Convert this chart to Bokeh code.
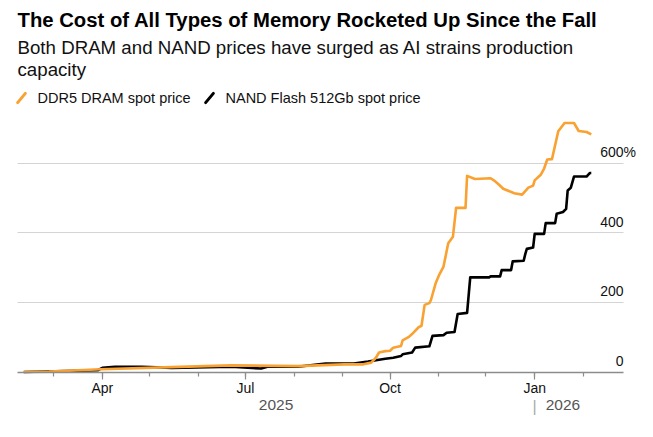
import math
import pandas as pd
from bokeh.plotting import figure
from bokeh.models import (Range1d, FixedTicker, DatetimeTickFormatter, Label,
                          ColumnDataSource)
from bokeh.embed import file_html
from bokeh.resources import INLINE

# ---------------- data (percent change since Feb 2025) ----------------
dram_dates = ["2025-02-10", "2025-02-26", "2025-03-31", "2025-05-15", "2025-06-22",
              "2025-08-03", "2025-09-02", "2025-09-14", "2025-09-19", "2025-09-22",
              "2025-09-24", "2025-09-28", "2025-10-01", "2025-10-03", "2025-10-08",
              "2025-10-09", "2025-10-13", "2025-10-15", "2025-10-19", "2025-10-21",
              "2025-10-23", "2025-10-26", "2025-10-27", "2025-10-30", "2025-11-01",
              "2025-11-04", "2025-11-07", "2025-11-10", "2025-11-12", "2025-11-18",
              "2025-11-19", "2025-11-24", "2025-12-04", "2025-12-06", "2025-12-09",
              "2025-12-12", "2025-12-19", "2025-12-24", "2025-12-28", "2025-12-31",
              "2026-01-01", "2026-01-05", "2026-01-07", "2026-01-09", "2026-01-12",
              "2026-01-16", "2026-01-20", "2026-01-26", "2026-01-29", "2026-02-03",
              "2026-02-06"]
dram_values = [0, 1, 8, 14, 19,
               17, 22, 22, 27, 41,
               56, 60, 61, 70, 75,
               91, 101, 109, 128, 133,
               193, 198, 207, 255, 277,
               303, 370, 389, 472, 472,
               564, 555, 557, 551, 540,
               527, 514, 510, 530, 536,
               551, 568, 585, 611, 612,
               692, 716, 716, 693, 690,
               683]

nand_dates = ["2025-02-10", "2025-03-29", "2025-04-01", "2025-04-09", "2025-04-26",
              "2025-05-15", "2025-06-22", "2025-07-11", "2025-07-15", "2025-08-03",
              "2025-08-21", "2025-09-08", "2025-09-17", "2025-09-22", "2025-09-28",
              "2025-10-03", "2025-10-08", "2025-10-09", "2025-10-15", "2025-10-17",
              "2025-10-26", "2025-10-28", "2025-11-04", "2025-11-06", "2025-11-11",
              "2025-11-13", "2025-11-19", "2025-11-21", "2025-12-03", "2025-12-04",
              "2025-12-10", "2025-12-11", "2025-12-17", "2025-12-18", "2025-12-25",
              "2025-12-26", "2025-12-27", "2025-12-31", "2026-01-01", "2026-01-07",
              "2026-01-08", "2026-01-14", "2026-01-15", "2026-01-19", "2026-01-21",
              "2026-01-22", "2026-01-24", "2026-01-26", "2026-02-03", "2026-02-05",
              "2026-02-06"]
nand_values = [0, 5, 12, 15, 15,
               12, 15, 10, 15, 15,
               24, 24, 30, 34, 38,
               41, 46, 51, 56, 70,
               74, 104, 106, 113, 115,
               167, 170, 272, 272, 275,
               275, 293, 293, 318, 320,
               339, 354, 358, 397, 397,
               428, 428, 455, 460, 469,
               522, 530, 562, 562, 572,
               572]

y_ticks = [0, 200, 400, 600]
y_tick_labels = ["0", "200", "400", "600"]
quarter_ticks = ["2025-04-01", "2025-07-01", "2025-10-01", "2026-01-01"]
month_ticks = ["2025-03-01", "2025-04-01", "2025-05-01", "2025-06-01", "2025-07-01",
               "2025-08-01", "2025-09-01", "2025-10-01", "2025-11-01", "2025-12-01",
               "2026-01-01", "2026-02-01"]
year_labels = ["2025", "2026"]

title_text = "The Cost of All Types of Memory Rocketed Up Since the Fall"
subtitle_lines = ["Both DRAM and NAND prices have surged as AI strains production",
                  "capacity"]
legend_names = ["DDR5 DRAM spot price", "NAND Flash 512Gb spot price"]


def ms(d):
    return pd.Timestamp(d).timestamp() * 1000.0


DAY = 86400000.0
ORANGE = "#F9A131"
BLACK = "#000000"
FONT = "Liberation Sans"

W, H = 637, 421
# plotting area geometry (pixels on the canvas)
PX_PER_DAY = 1.572
PX_PER_UNIT = 0.3478
AX_LEFT, AX_RIGHT, AX_ZERO = 17, 623, 371.5

x_start = ms("2025-02-06")                      # left end of the axis line
x_stop = x_start + (AX_RIGHT - AX_LEFT) / PX_PER_DAY * DAY
x_lo = x_start - AX_LEFT / PX_PER_DAY * DAY
x_hi = x_start + (W - AX_LEFT) / PX_PER_DAY * DAY
y_lo = -(H - AX_ZERO) / PX_PER_UNIT
y_hi = AX_ZERO / PX_PER_UNIT


def px_to_x(px):
    return x_lo + px / PX_PER_DAY * DAY


def py_to_y(py):
    return (AX_ZERO - py) / PX_PER_UNIT


p = figure(width=W, height=H, output_backend="svg", toolbar_location=None,
           x_axis_type="datetime", y_axis_location=None,
           x_range=Range1d(x_lo, x_hi), y_range=Range1d(y_lo, y_hi),
           min_border_left=0, min_border_right=0, min_border_top=0,
           min_border_bottom=0, tools="")
p.outline_line_color = None
p.background_fill_color = "white"
p.border_fill_color = "white"
p.xgrid.visible = False
for g in p.ygrid:
    g.ticker = FixedTicker(ticks=y_ticks[1:])
    g.grid_line_color = "#d4d4d4"
    g.grid_line_width = 1
    g.cross_bounds = (x_start, x_stop)

ax = p.xaxis[0]
ax.fixed_location = 0
ax.bounds = (x_start, x_stop)
ax.ticker = FixedTicker(ticks=[ms(d) for d in quarter_ticks],
                        minor_ticks=[ms(d) for d in month_ticks])
fmt = "%b"
ax.formatter = DatetimeTickFormatter(microseconds=fmt, milliseconds=fmt, seconds=fmt,
                                     minsec=fmt, minutes=fmt, hourmin=fmt, hours=fmt,
                                     days=fmt, months=fmt, years=fmt,
                                     boundary_scaling=False)
ax.axis_line_color = "#8c8c8c"
ax.axis_line_width = 1.6
ax.major_tick_line_color = "#8c8c8c"
ax.minor_tick_line_color = "#8c8c8c"
ax.major_tick_line_width = 1.2
ax.minor_tick_line_width = 1.2
ax.major_tick_in = 0
ax.major_tick_out = 7
ax.minor_tick_in = 0
ax.minor_tick_out = 4
ax.major_label_standoff = 1
ax.major_label_text_font = FONT
ax.major_label_text_font_size = "14px"
ax.major_label_text_color = "#111111"

nand_src = ColumnDataSource(dict(x=pd.to_datetime(nand_dates), y=nand_values))
dram_src = ColumnDataSource(dict(x=pd.to_datetime(dram_dates), y=dram_values))
p.line("x", "y", source=nand_src, line_color=BLACK, line_width=2.6, line_join="round")
p.line("x", "y", source=dram_src, line_color=ORANGE, line_width=2.6, line_join="round")

# y tick labels, right-aligned at the end of the gridlines
for v, t in zip(y_ticks, y_tick_labels):
    p.add_layout(Label(x=x_stop, y=v, text=t, text_align="right",
                       text_baseline="alphabetic", y_offset=11,
                       text_font=FONT, text_font_size="14px", text_color="#111111"))
p.add_layout(Label(x=x_stop, y=y_ticks[-1], text="%", text_align="left",
                   text_baseline="alphabetic", y_offset=11,
                   text_font=FONT, text_font_size="14px", text_color="#111111"))

# year labels under the month labels (screen y measured from the bottom)
jan26 = ms("2026-01-01")
p.add_layout(Label(x=(x_start + jan26) / 2, y=17, y_units="screen", text=year_labels[0],
                   text_align="center", text_baseline="alphabetic",
                   text_font=FONT, text_font_size="15.5px", text_color="#555555"))
p.add_layout(Label(x=jan26, y=17, y_units="screen", x_offset=11, text=year_labels[1],
                   text_align="left", text_baseline="alphabetic",
                   text_font=FONT, text_font_size="15.5px", text_color="#555555"))
p.add_layout(Label(x=jan26, y=15, y_units="screen", text="|",
                   text_align="center", text_baseline="alphabetic",
                   text_font=FONT, text_font_size="16px", text_color="#aaaaaa"))

# title block
p.add_layout(Label(x=AX_LEFT, y=H - 19, x_units="screen", y_units="screen", text=title_text,
                   text_font=FONT, text_font_style="bold", text_font_size="20.3px",
                   text_color="#000000", text_baseline="alphabetic"))
for i, line in enumerate(subtitle_lines):
    p.add_layout(Label(x=AX_LEFT, y=H - 47 - 22 * i, x_units="screen", y_units="screen",
                       text=line, text_font=FONT, text_font_size="18.7px",
                       text_color="#111111", text_baseline="alphabetic"))

# legend: slanted stroke icons + names
leg_y = H - 97
icon_src = ColumnDataSource(dict(x=[px_to_x(21), px_to_x(209)],
                                 y=[py_to_y(97.5), py_to_y(97.5)],
                                 c=[ORANGE, BLACK]))
p.scatter("x", "y", source=icon_src, marker="dash", size=12, angle=math.radians(50),
          line_color="c", line_width=3, line_cap="round")
for name, tx in [(legend_names[0], 37), (legend_names[1], 225)]:
    p.add_layout(Label(x=tx, y=leg_y, x_units="screen", y_units="screen", text=name,
                       text_font=FONT, text_font_size="14.5px", text_color="#111111",
                       text_baseline="alphabetic"))

open("out.html", "w").write(file_html(p, INLINE))
